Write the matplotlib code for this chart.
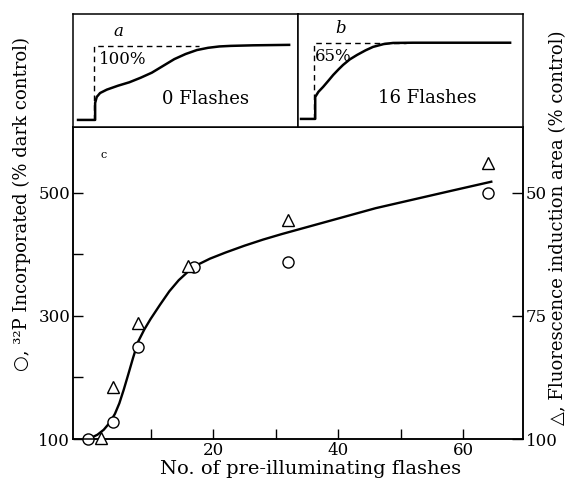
import matplotlib.pyplot as plt

plt.rcParams['font.family'] = ['DejaVu Serif', 'DejaVu Sans']

# Data
circle_flashes = [0, 4, 8, 17, 32, 64]
circle_p32 = [100, 128, 250, 380, 388, 500]          # % dark control (left axis)

tri_flashes = [2, 4, 8, 16, 32, 64]
tri_area = [99.7, 89.4, 76.4, 64.9, 55.5, 43.9]      # % control (right axis, inverted)

# hand-drawn fitted curve
curve_x = [-0.5, 0.5, 1.5, 2.5, 3.5, 4.3, 5.0, 5.7, 6.4, 7.2, 8.0, 9.0, 10.0,
           11.5, 13.0, 14.5, 16.0, 17.5, 19.5, 22, 25, 28, 31, 36, 41, 46, 52, 58, 64.5]
curve_y = [100, 102, 107, 115, 127, 141, 158, 180, 204, 232, 258, 278, 295,
           318, 340, 358, 372, 383, 393, 403, 414, 424, 433, 447, 461, 475, 489, 503, 518]

# Fluorescence induction traces (inset a: 0 flashes, inset b: 16 flashes)
trace_a_t = [0.022, 0.098, 0.098, 0.105, 0.12, 0.15, 0.2, 0.25, 0.3, 0.35, 0.4,
             0.45, 0.5, 0.55, 0.6, 0.65, 0.7, 0.8, 0.96]
trace_a_f = [0.062, 0.062, 0.212, 0.265, 0.30, 0.33, 0.365, 0.395, 0.435, 0.48, 0.54,
             0.60, 0.645, 0.68, 0.70, 0.712, 0.717, 0.722, 0.726]
dash_a_t = [0.093, 0.093, 0.56]
dash_a_f = [0.062, 0.717, 0.717]

trace_b_t = [0.013, 0.076, 0.076, 0.09, 0.111, 0.135, 0.156, 0.18, 0.2, 0.23,
             0.262, 0.3, 0.333, 0.38, 0.422, 0.511, 0.942]
trace_b_f = [0.071, 0.071, 0.265, 0.31, 0.354, 0.41, 0.46, 0.51, 0.549, 0.598,
             0.637, 0.678, 0.708, 0.733, 0.743, 0.745, 0.745]
dash_b_t = [0.071, 0.071, 0.48]
dash_b_f = [0.071, 0.743, 0.743]

fig = plt.figure(figsize=(5.8, 4.79), dpi=100)
ax = fig.add_axes([0.126, 0.0835, 0.776, 0.6515])
ax2 = ax.twinx()
axa = fig.add_axes([0.126, 0.735, 0.388, 0.236])
axb = fig.add_axes([0.514, 0.735, 0.388, 0.236])

# main panel
ax.plot(curve_x, curve_y, color='black', lw=1.7, zorder=2, solid_joinstyle='round')
ax.plot(circle_flashes, circle_p32, 'o', ms=8, mfc='white', mec='black', mew=1.0,
        clip_on=False, zorder=4)
ax2.plot(tri_flashes, tri_area, '^', ms=8, mfc='white', mec='black', mew=1.0,
         clip_on=False, zorder=4)

ax.set_xlim(-2.4, 69.6)
ax.set_ylim(100, 607)
ax2.set_ylim(100, 100 - (607 - 100) / 8)

ax.set_xticks([10, 20, 30, 40, 50, 60])
ax.set_xticklabels(['', '20', '', '40', '', '60'])
ax.set_yticks([100, 200, 300, 400, 500])
ax.set_yticklabels(['100', '', '300', '', '500'])
ax2.set_yticks([50, 75, 100])

ax.tick_params(axis='x', direction='in', length=7, width=1, labelsize=12, pad=2)
ax.tick_params(axis='y', direction='in', length=7, width=1, labelsize=12, pad=2)
ax2.tick_params(axis='y', direction='in', length=8, width=1, labelsize=12, pad=2)
for a in (ax, ax2):
    for s in a.spines.values():
        s.set_linewidth(1.1)

ax.text(0.06, 0.9, 'c', transform=ax.transAxes, fontsize=8)

fig.text(0.535, 0.02, 'No. of pre-illuminating flashes', ha='center', va='center', fontsize=14)
fig.text(0.038, 0.574, '○, ³²P Incorporated (% dark control)', rotation=90,
         ha='center', va='center', fontsize=13)
fig.text(0.962, 0.525, '△, Fluorescence induction area (% control)', rotation=90,
         ha='center', va='center', fontsize=13)

# insets
for a in (axa, axb):
    a.set_xlim(0, 1)
    a.set_ylim(0, 1)
    a.set_xticks([])
    a.set_yticks([])
    for s in a.spines.values():
        s.set_linewidth(1.1)

axa.plot(trace_a_t, trace_a_f, color='black', lw=1.8, solid_joinstyle='round')
axa.plot(dash_a_t, dash_a_f, color='black', lw=1.0, ls=(0, (4, 3)))
axa.text(0.2, 0.84, 'a', style='italic', fontsize=12, ha='center', va='center')
axa.text(0.115, 0.60, '100%', fontsize=12, ha='left', va='center')
axa.text(0.587, 0.25, '0 Flashes', fontsize=13, ha='center', va='center')

axb.plot(trace_b_t, trace_b_f, color='black', lw=1.8, solid_joinstyle='round')
axb.plot(dash_b_t, dash_b_f, color='black', lw=1.0, ls=(0, (4, 3)))
axb.text(0.187, 0.87, 'b', style='italic', fontsize=12, ha='center', va='center')
axb.text(0.075, 0.62, '65%', fontsize=12, ha='left', va='center')
axb.text(0.573, 0.26, '16 Flashes', fontsize=13, ha='center', va='center')

fig.savefig('out.png', dpi=100)
